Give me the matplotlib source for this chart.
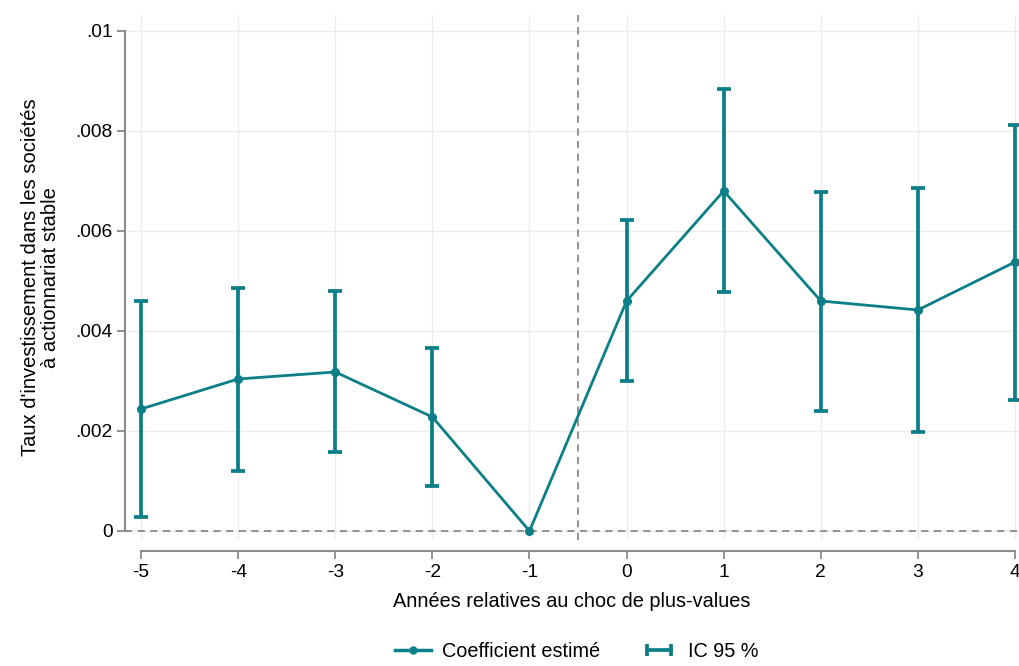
import numpy as np
import matplotlib.pyplot as plt
from matplotlib.lines import Line2D
from matplotlib.legend_handler import HandlerLine2D

plt.rcParams['font.family'] = ['Liberation Sans', 'DejaVu Sans']
plt.rcParams['axes.unicode_minus'] = False

# Event-study estimates
years = [-5, -4, -3, -2, -1, 0, 1, 2, 3, 4]
coef = [0.00244, 0.00304, 0.00318, 0.00228, 0.0, 0.0046, 0.0068, 0.0046, 0.00442, 0.00538]
ci_low = [0.00028, 0.0012, 0.00158, 0.0009, 0.0, 0.0030, 0.00478, 0.0024, 0.00198, 0.00262]
ci_high = [0.0046, 0.00486, 0.0048, 0.00366, 0.0, 0.00622, 0.00884, 0.00678, 0.00686, 0.00812]
yticks = [0, 0.002, 0.004, 0.006, 0.008, 0.01]
ytick_labels = ['0', '.002', '.004', '.006', '.008', '.01']

teal = '#0b7f88'
grey = '#8a8a8a'

fig = plt.figure(figsize=(10.19, 6.66), dpi=100)
ax = fig.add_axes([0.1227, 0.1892, 0.8773, 0.7883])

# grid
ax.set_axisbelow(True)
ax.grid(True, color='#ececec', linewidth=0.9)

# reference lines
ax.axhline(0, color=grey, linewidth=1.3, linestyle=(0, (4, 3)), zorder=1)
ax.axvline(-0.5, color=grey, linewidth=1.3, linestyle=(0, (4, 3)), zorder=1)

# confidence intervals (skip reference year)
yrs = np.array(years)
c = np.array(coef)
lo = np.array(ci_low)
hi = np.array(ci_high)
mask = yrs != -1
ax.errorbar(yrs[mask], c[mask], yerr=[c[mask] - lo[mask], hi[mask] - c[mask]],
            fmt='none', ecolor=teal, elinewidth=2.7, capsize=5, capthick=2.7, zorder=3)

# point estimates
ax.plot(yrs, c, color=teal, linewidth=2, marker='o', markersize=5.5, zorder=4)

ax.set_xlim(-5.165, 4.041)
ax.set_ylim(-0.00018, 0.01032)
ax.set_xticks(years)
ax.set_yticks(yticks)
ax.set_yticklabels(ytick_labels)

for s in ['top', 'right']:
    ax.spines[s].set_visible(False)
ax.spines['left'].set_bounds(0, 0.01)
ax.spines['bottom'].set_bounds(-5, 4)
ax.spines['bottom'].set_position(('outward', 8))
for s in ['left', 'bottom']:
    ax.spines[s].set_color(grey)
    ax.spines[s].set_linewidth(1.5)
ax.tick_params(axis='both', colors=grey, length=6, width=1.3, labelsize=13.8,
               labelcolor='black')
ax.tick_params(axis='y', pad=3)

ax.set_xlabel('Années relatives au choc de plus-values', fontsize=14.3, labelpad=8)
ax.set_ylabel("Taux d'investissement dans les sociétés\nà actionnariat stable",
              fontsize=14.5, labelpad=11, linespacing=1.05)

h1 = Line2D([], [], color=teal, linewidth=2.5, marker='o', markersize=5)
h2 = Line2D([], [], color=teal, linewidth=2.7, marker='|', markersize=9,
            markeredgewidth=2.7)
fig.legend([h1, h2], ['Coefficient estimé', 'IC 95 %'],
           handler_map={h1: HandlerLine2D(numpoints=1), h2: HandlerLine2D(numpoints=2)},
           loc='lower center', bbox_to_anchor=(0.566, -0.02), ncol=2, frameon=False,
           fontsize=14.3, handlelength=1.8, handletextpad=0.55, columnspacing=2.1)

plt.savefig('out.png', dpi=100)
